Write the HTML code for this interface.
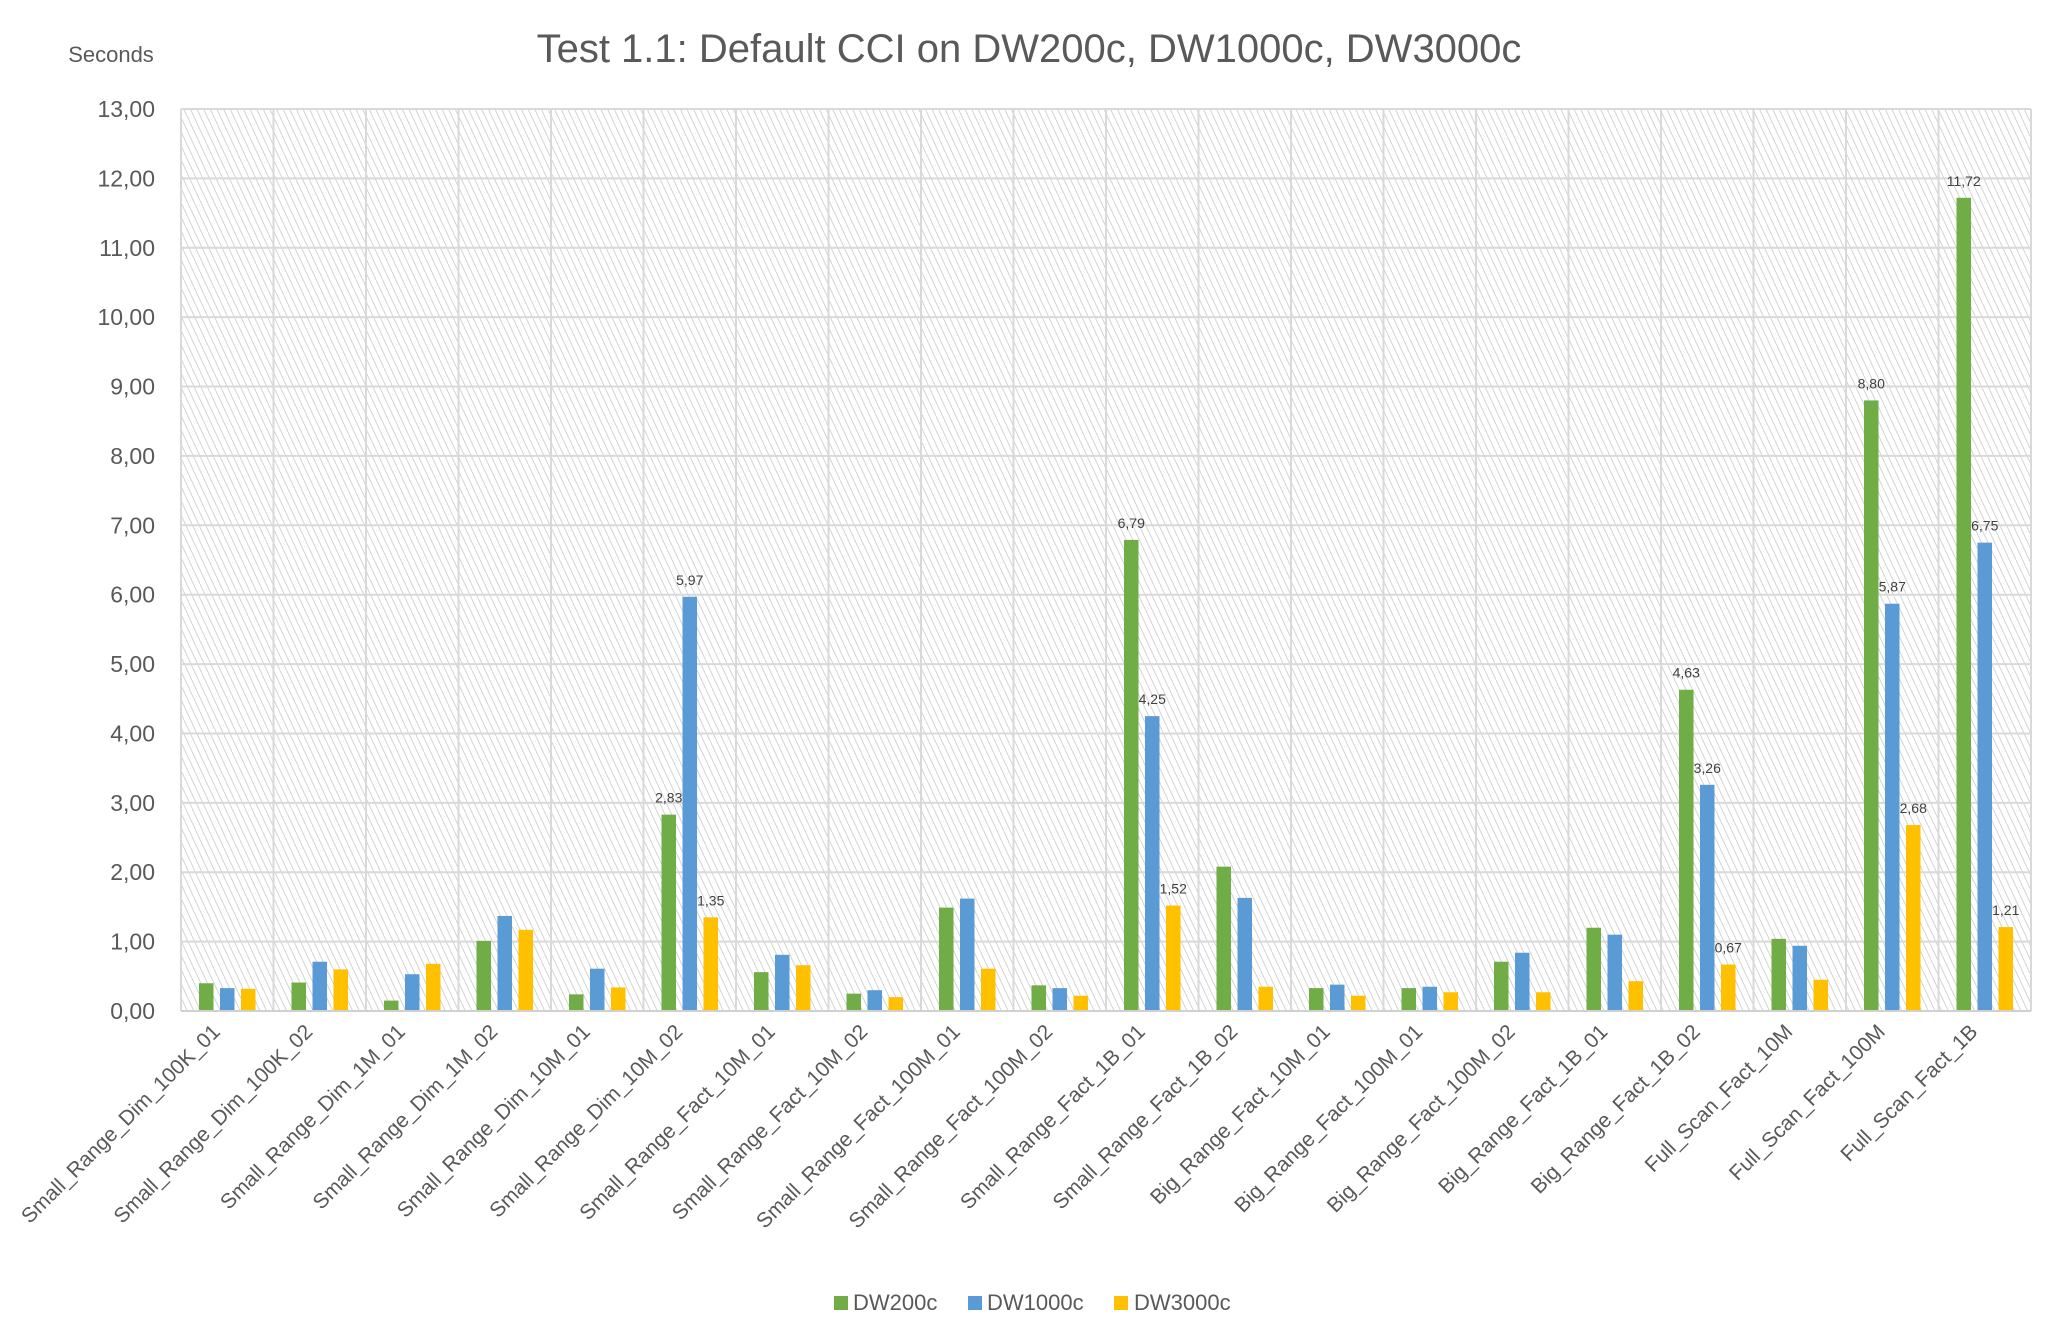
<!DOCTYPE html>
<html><head><meta charset="utf-8"><style>
html,body{margin:0;padding:0;background:#fff;}
svg{display:block;font-family:"Liberation Sans",sans-serif;}
</style></head><body>
<svg id="chart" width="2056" height="1328" viewBox="0 0 2056 1328">
<defs>
<pattern id="hatch" width="6" height="6" patternUnits="userSpaceOnUse" patternTransform="rotate(-25)">
<rect width="6" height="6" fill="#ffffff"/>
<line x1="0" y1="0" x2="0" y2="6" stroke="#cfcfcf" stroke-width="1.8"/>
</pattern>
</defs>
<text x="1029" y="62" text-anchor="middle" font-size="40" fill="#595959">Test 1.1: Default CCI on DW200c, DW1000c, DW3000c</text>
<text x="111" y="62" text-anchor="middle" font-size="22" fill="#595959">Seconds</text>
<g id="plot"></g>
<g id="legend">
<rect x="834" y="1296" width="14" height="14" fill="#70ad47"/>
<text x="853" y="1310" font-size="22" fill="#595959">DW200c</text>
<rect x="968" y="1296" width="14" height="14" fill="#5b9bd5"/>
<text x="987" y="1310" font-size="22" fill="#595959">DW1000c</text>
<rect x="1114" y="1296" width="14" height="14" fill="#ffc000"/>
<text x="1134" y="1310" font-size="22" fill="#595959">DW3000c</text>
</g>
</svg>
<script>
const categories = ["Small_Range_Dim_100K_01","Small_Range_Dim_100K_02","Small_Range_Dim_1M_01","Small_Range_Dim_1M_02","Small_Range_Dim_10M_01","Small_Range_Dim_10M_02","Small_Range_Fact_10M_01","Small_Range_Fact_10M_02","Small_Range_Fact_100M_01","Small_Range_Fact_100M_02","Small_Range_Fact_1B_01","Small_Range_Fact_1B_02","Big_Range_Fact_10M_01","Big_Range_Fact_100M_01","Big_Range_Fact_100M_02","Big_Range_Fact_1B_01","Big_Range_Fact_1B_02","Full_Scan_Fact_10M","Full_Scan_Fact_100M","Full_Scan_Fact_1B"];
const dw200c = [0.40,0.41,0.15,1.01,0.24,2.83,0.56,0.25,1.49,0.37,6.79,2.08,0.33,0.33,0.71,1.20,4.63,1.04,8.80,11.72];
const dw1000c = [0.33,0.71,0.53,1.37,0.61,5.97,0.81,0.30,1.62,0.33,4.25,1.63,0.38,0.35,0.84,1.10,3.26,0.94,5.87,6.75];
const dw3000c = [0.32,0.60,0.68,1.17,0.34,1.35,0.66,0.20,0.61,0.22,1.52,0.35,0.22,0.27,0.27,0.43,0.67,0.45,2.68,1.21];
const labeled200 = [5,10,16,18,19];
const labeled1000 = [5,10,16,18,19];
const labeled3000 = [5,10,16,18,19];
const yTicks = [0,1,2,3,4,5,6,7,8,9,10,11,12,13];

const NS="http://www.w3.org/2000/svg";
const L=181,R=2031,T=109,B=1011,YMAX=13;
const y=v=>B-(v/YMAX)*(B-T);
const cw=(R-L)/categories.length;
const xc=i=>L+cw*(i+0.5);
const plot=document.getElementById('plot');
function mk(tag,attrs,parent){const e=document.createElementNS(NS,tag);for(const k in attrs)e.setAttribute(k,attrs[k]);(parent||plot).appendChild(e);return e;}
const fmt=v=>v.toFixed(2).replace('.',',');

const bg=mk('rect',{x:L,y:T,width:R-L,height:B-T,fill:'url(#hatch)'});


yTicks.forEach(t=>{
  const g=mk('line',{x1:L,x2:R,y1:y(t),y2:y(t),stroke:'#d9d9d9','stroke-width':2});
  
  
  const tx=mk('text',{x:155,y:y(t)+8,'text-anchor':'end','font-size':23,fill:'#595959'});
  tx.textContent=fmt(t);
  
  
});
for(let i=0;i<=categories.length;i++){
  const v=mk('line',{x1:L+cw*i,x2:L+cw*i,y1:T,y2:B,stroke:'#d9d9d9','stroke-width':2});
  
  
}
const series=[[dw200c,'#70ad47',-21,labeled200,'dw200c'],[dw1000c,'#5b9bd5',0,labeled1000,'dw1000c'],[dw3000c,'#ffc000',21,labeled3000,'dw3000c']];
const bw=14.5;
series.forEach(([vals,col,off,lab,nm])=>{
  vals.forEach((v,i)=>{
    const bx=xc(i)+off-bw/2;
    const r=mk('rect',{x:bx,y:y(v),width:bw,height:B-y(v),fill:col});
    
    
    if(lab.includes(i)){
      const t=mk('text',{x:xc(i)+off,y:y(v)-12,'text-anchor':'middle','font-size':14,fill:'#404040'});
      t.textContent=fmt(v);
      
      
    }
  });
});
const ax=mk('line',{x1:L,x2:R,y1:B,y2:B,stroke:'#d0d0d0','stroke-width':2});


categories.forEach((c,i)=>{
  const x=xc(i)-6,yy=B+22;
  const t=mk('text',{x:x,y:yy,'text-anchor':'end','font-size':21,fill:'#595959',transform:`rotate(-45 ${x} ${yy})`});
  t.textContent=c;
  
  
});
</script>
</body></html>
